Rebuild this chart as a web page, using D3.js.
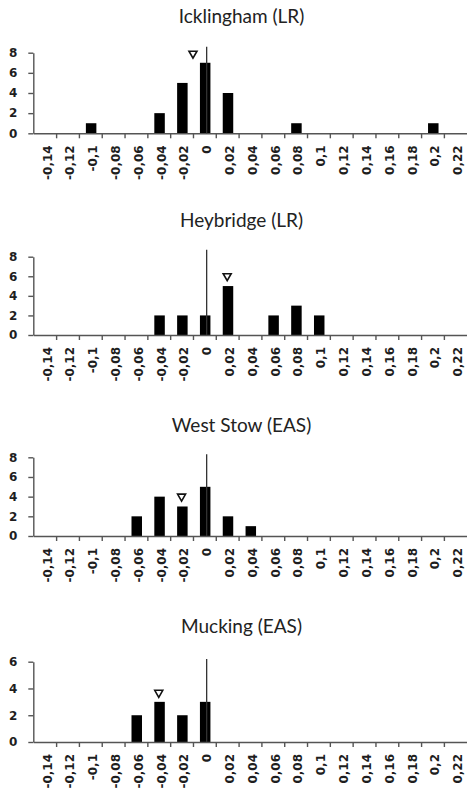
<!DOCTYPE html>
<html>
<head>
<meta charset="utf-8">
<script src="https://cdn.jsdelivr.net/npm/d3@7"></script>
<style>
  html, body { margin: 0; padding: 0; background: #fff; }
  svg { display: block; }
</style>
</head>
<body>
<svg id="chart" width="467" height="789"></svg>
<script>
// ---------- data ----------
const categories = [-0.14,-0.12,-0.1,-0.08,-0.06,-0.04,-0.02,0,0.02,0.04,0.06,0.08,0.1,0.12,0.14,0.16,0.18,0.2,0.22];
const tickLabels = ["-0,14","-0,12","-0,1","-0,08","-0,06","-0,04","-0,02","0","0,02","0,04","0,06","0,08","0,1","0,12","0,14","0,16","0,18","0,2","0,22"];
const siteNames = ["Icklingham (LR)", "Heybridge (LR)", "West Stow (EAS)", "Mucking (EAS)"];
const icklingham = [0,0,1,0,0,2,5,7,4,0,0,1,0,0,0,0,0,1,0];
const heybridge  = [0,0,0,0,0,2,2,2,5,0,2,3,2,0,0,0,0,0,0];
const westStow   = [0,0,0,0,2,4,3,5,2,1,0,0,0,0,0,0,0,0,0];
const mucking    = [0,0,0,0,2,3,2,3,0,0,0,0,0,0,0,0,0,0,0];
const yMax = [8, 8, 8, 6];
const yTickStep = 2;
const markerValue = [-0.01, 0.02, -0.02, -0.04];   // triangle position (x value)
const markerCount = [7.8, 5.9, 3.9, 3.6];          // triangle height (count units)
const refLineValue = 0.002;                        // vertical reference line
const refLineTop = [8.6, 8.7, 8.3, 6.2];

const seriesList = [icklingham, heybridge, westStow, mucking];

// ---------- layout ----------
const W = 467;
const axisLeftX = 33.3, axisRightX = 466.7;
const zeroY = [133.3, 335, 536, 742];
const plotH = [80.6, 78.3, 78.7, 80.3];
const titleY = [23, 227, 432, 633];
const titleX = 241.5;

const svg = d3.select("#chart");
svg.append("rect").attr("width", W).attr("height", 789).attr("fill", "#fff");

const xBand = d3.scaleBand().domain(tickLabels).range([axisLeftX, axisRightX]).padding(0);
const bw = xBand.bandwidth();
const xEdge = d3.scaleLinear().domain([0, categories.length]).range([axisLeftX, axisRightX]);
const xLin = d3.scaleLinear()
  .domain([categories[0], categories[categories.length - 1]])
  .range([xBand(tickLabels[0]) + bw / 2, xBand(tickLabels[tickLabels.length - 1]) + bw / 2]);

const axisColor = "#555";
const textColor = "#1e1e1e";

seriesList.forEach((vals, p) => {
  const y = d3.scaleLinear().domain([0, yMax[p]]).range([zeroY[p], zeroY[p] - plotH[p]]);
  const g = svg.append("g");

  // title
  g.append("text")
    .attr("x", titleX).attr("y", titleY[p])
    .attr("text-anchor", "middle")
    .attr("font-family", "Lato, 'Open Sans', sans-serif")
    .attr("font-size", 19)
    .attr("fill", "#222")
    .text(siteNames[p]);

  // bars
  const barW = bw * 0.46;
  g.selectAll("rect.bar")
    .data(vals.map((v, i) => ({ v, lab: tickLabels[i] })).filter(d => d.v > 0))
    .join("rect")
    .attr("class", "bar")
    .attr("x", d => xBand(d.lab) + bw / 2 - barW / 2 + 0.8)
    .attr("width", barW)
    .attr("y", d => y(d.v))
    .attr("height", d => y(0) - y(d.v))
    .attr("fill", "#000");

  // y axis
  const yAxis = d3.axisLeft(y)
    .tickValues(d3.range(0, yMax[p] + 0.001, yTickStep))
    .tickFormat(d3.format("d"))
    .tickSizeInner(5).tickSizeOuter(0).tickPadding(11);
  const ya = g.append("g").attr("transform", `translate(${axisLeftX},0)`).call(yAxis);
  ya.select(".domain").attr("stroke", axisColor).attr("stroke-width", 1.4);
  ya.selectAll(".tick line").attr("stroke", axisColor).attr("stroke-width", 1.4);
  ya.selectAll(".tick text")
    .attr("font-family", "'DejaVu Sans', Verdana, sans-serif")
    .attr("font-weight", "bold")
    .attr("font-size", 12)
    .attr("fill", textColor);

  // x axis (ticks at band edges)
  const xAxis = d3.axisBottom(xEdge)
    .tickValues(d3.range(1, categories.length))
    .tickFormat("")
    .tickSizeInner(5).tickSizeOuter(0);
  const xa = g.append("g").attr("transform", `translate(0,${zeroY[p]})`).call(xAxis);
  xa.select(".domain").attr("stroke", axisColor).attr("stroke-width", 1.4);
  xa.selectAll(".tick line").attr("stroke", axisColor).attr("stroke-width", 1.4);

  // x tick labels, rotated
  g.selectAll("text.xl")
    .data(tickLabels)
    .join("text")
    .attr("class", "xl")
    .attr("transform", d => `translate(${xBand(d) + bw / 2 + 2.5},${zeroY[p] + 12}) rotate(-90)`)
    .attr("text-anchor", "end")
    .attr("dy", "0.36em")
    .attr("font-family", "'DejaVu Sans', Verdana, sans-serif")
    .attr("font-weight", "bold")
    .attr("font-size", 12)
    .attr("fill", textColor)
    .text(d => d);

  // vertical reference line
  g.append("line")
    .attr("x1", xLin(refLineValue)).attr("x2", xLin(refLineValue))
    .attr("y1", y(0)).attr("y2", y(refLineTop[p]))
    .attr("stroke", "#333").attr("stroke-width", 1.3);

  // triangle marker (pointing down)
  const mx = xLin(markerValue[p]), my = y(markerCount[p]);
  const tw = 8, th = 7;
  g.append("path")
    .attr("d", `M${mx - tw / 2},${my - th / 2} L${mx + tw / 2},${my - th / 2} L${mx},${my + th / 2} Z`)
    .attr("fill", "#fff")
    .attr("stroke", "#111")
    .attr("stroke-width", 1.6)
    .attr("stroke-linejoin", "miter");
});
</script>
</body>
</html>
